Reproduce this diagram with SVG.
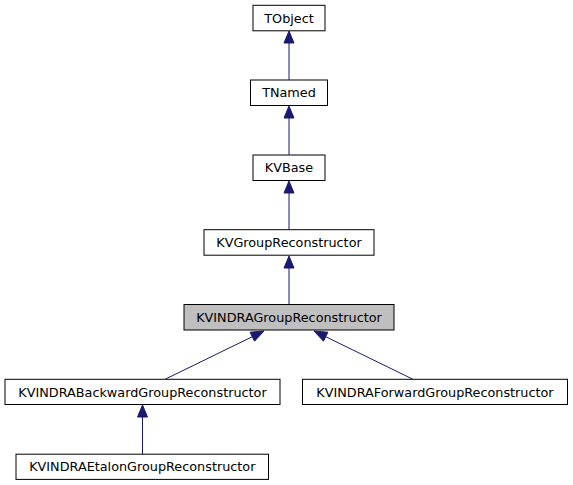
<svg xmlns="http://www.w3.org/2000/svg" width="573" height="485" viewBox="0 0 573 485">
<style>
.n rect{fill:#ffffff;stroke:#000000;stroke-width:1}
.n.cur rect{fill:#bfbfbf}
.n text{font-family:"DejaVu Sans","Liberation Sans",sans-serif;font-size:12.8px;text-anchor:middle;fill:#000000}
.e path{fill:none;stroke:#191970;stroke-width:1}
.e polygon{fill:#191970;stroke:#191970;stroke-width:1}
</style>
<rect x="0" y="0" width="573" height="485" fill="#ffffff"/>
<g id="edges" class="e">
<path d="M289,79.8 L289,43"/><polygon points="289,31 294,43 284,43"/>
<path d="M289,154.7 L289,118"/><polygon points="289,106 294,118 284,118"/>
<path d="M289,229.5 L289,193"/><polygon points="289,181 294,193 284,193"/>
<path d="M289,304.4 L289,268"/><polygon points="289,256 294,268 284,268"/>
<path d="M165,379.3 L252.3,336.7"/><polygon points="264,331 254.5,341.2 250.1,332.2"/>
<path d="M413,379.3 L325.7,336.7"/><polygon points="314,331 327.9,332.2 323.5,341.2"/>
<path d="M142.5,454.2 L142.5,417"/><polygon points="142.5,405 147.5,417 137.5,417"/>
</g>
<g id="TObject" class="n"><rect x="253" y="5.3" width="72" height="25.5"/><text x="289" y="22.6">TObject</text></g>
<g id="TNamed" class="n"><rect x="250.5" y="80" width="77" height="25.5"/><text x="289" y="97.3">TNamed</text></g>
<g id="KVBase" class="n"><rect x="253" y="155" width="72" height="25.5"/><text x="289" y="172.3">KVBase</text></g>
<g id="KVGroupReconstructor" class="n"><rect x="204" y="229.7" width="170" height="25.5"/><text x="289" y="247">KVGroupReconstructor</text></g>
<g id="KVINDRAGroupReconstructor" class="n cur"><rect x="184" y="304.5" width="210" height="25.5"/><text x="289" y="321.8">KVINDRAGroupReconstructor</text></g>
<g id="KVINDRABackwardGroupReconstructor" class="n"><rect x="5" y="379.3" width="275" height="25.2"/><text x="142.5" y="396.5">KVINDRABackwardGroupReconstructor</text></g>
<g id="KVINDRAForwardGroupReconstructor" class="n"><rect x="302.5" y="379.3" width="265" height="25.2"/><text x="435" y="396.5">KVINDRAForwardGroupReconstructor</text></g>
<g id="KVINDRAEtalonGroupReconstructor" class="n"><rect x="16" y="454.2" width="252.5" height="25.2"/><text x="142.3" y="471.4">KVINDRAEtalonGroupReconstructor</text></g>
</svg>
